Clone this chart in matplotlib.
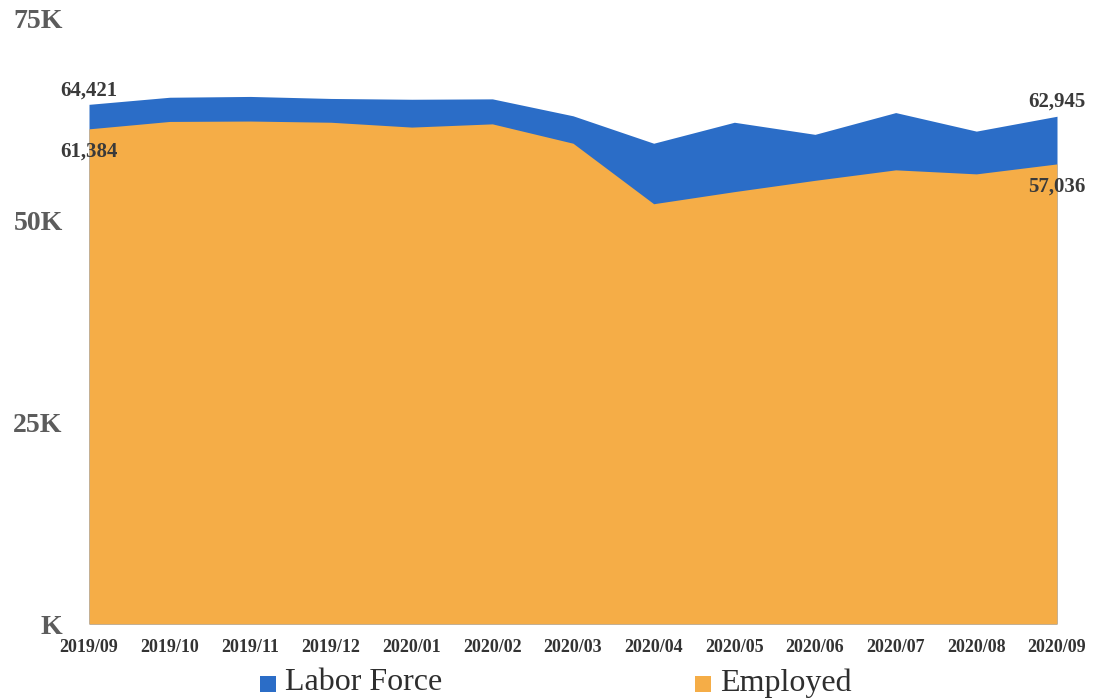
import matplotlib
matplotlib.use("Agg")
import matplotlib.pyplot as plt
from matplotlib.patches import Rectangle
from matplotlib.ticker import FuncFormatter

months = ["2019/09", "2019/10", "2019/11", "2019/12", "2020/01", "2020/02", "2020/03",
          "2020/04", "2020/05", "2020/06", "2020/07", "2020/08", "2020/09"]
labor_force = [64421, 65300, 65400, 65150, 65050, 65100, 63000,
               59600, 62200, 60700, 63400, 61100, 62945]
employed = [61384, 62300, 62350, 62200, 61600, 62000, 59600,
            52100, 53600, 55000, 56300, 55800, 57036]
y_ticks = [0, 25000, 50000, 75000]

BLUE = "#2B6DC7"
ORANGE = "#F5AD47"
plt.rcParams["font.family"] = ["Liberation Serif", "DejaVu Serif"]

fig = plt.figure(figsize=(10.93, 6.99), dpi=100)
ax = fig.add_axes([89 / 1093, 1 - 624 / 699, (1057 - 89) / 1093, (624 - 19) / 699])

x = list(range(len(months)))
ax.fill_between(x, 0, labor_force, color=BLUE, linewidth=0)
ax.fill_between(x, 0, employed, color=ORANGE, linewidth=0)

ax.set_xlim(0, len(months) - 1)
ax.set_ylim(0, 75000)
ax.set_yticks(y_ticks)
ax.yaxis.set_major_formatter(FuncFormatter(lambda v, _: f"{int(v / 1000)}K" if v else "K"))
ax.set_xticks(x)
ax.set_xticklabels(months)
ax.tick_params(axis="y", length=0, pad=19, labelsize=20, labelcolor="#5c5c5c")
ax.tick_params(axis="x", length=0, pad=11, labelsize=13, labelcolor="#333333")
for lbl in ax.get_xticklabels() + ax.get_yticklabels():
    lbl.set_fontweight("bold")
for s in ax.spines.values():
    s.set_visible(False)

# end-point value labels
lab_kw = dict(fontsize=15, color="#3a3a3a", ha="center", fontweight="bold")
for i in (0, len(months) - 1):
    ax.annotate(f"{labor_force[i]:,}", (x[i], labor_force[i]), xytext=(0, 3),
                textcoords="offset points", va="bottom", **lab_kw)
    ax.annotate(f"{employed[i]:,}", (x[i], employed[i]), xytext=(0, -9),
                textcoords="offset points", va="top", **lab_kw)

# legend row
for (label, color, x0) in (("Labor Force", BLUE, 260), ("Employed", ORANGE, 695)):
    fig.patches.append(Rectangle((x0 / 1093, 1 - 692 / 699), 16 / 1093, 16 / 699,
                                 transform=fig.transFigure, color=color, linewidth=0))
    fig.text((x0 + 25) / 1093, 1 - 683 / 699, label, fontsize=23, color="#2e2e2e",
             va="center", ha="left")

fig.savefig("out.png", dpi=100)
